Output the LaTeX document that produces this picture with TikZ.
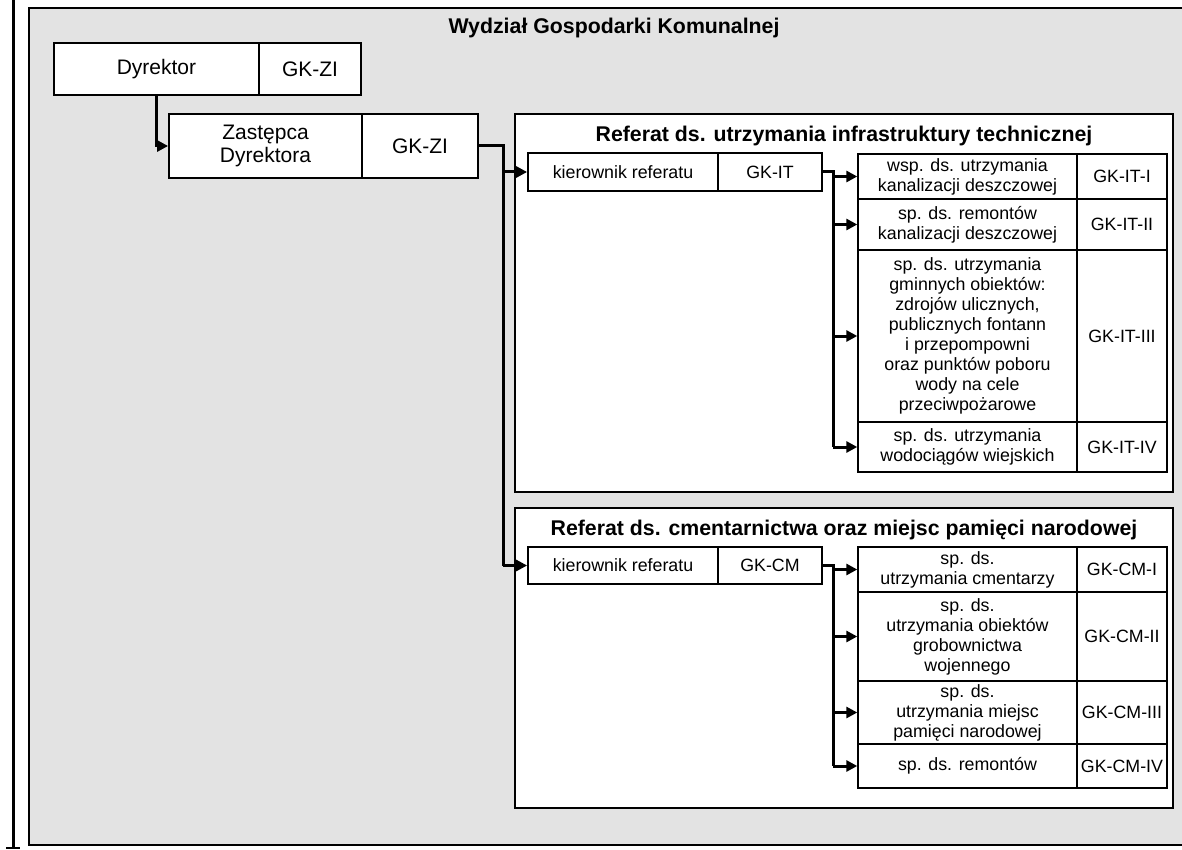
\documentclass[tikz,border=0pt]{standalone}
\usepackage{fontspec}
\setmainfont{Liberation Sans}
\usetikzlibrary{arrows.meta}
\newcommand\bigf{\fontsize{21}{23.5}\selectfont}
\newcommand\smf{\fontsize{17.8}{20}\selectfont}
\newcommand\titf{\fontsize{21.3}{24}\selectfont\bfseries}
\tikzset{
  box/.style={draw, line width=1.8pt, fill=white, inner sep=0pt, align=center, font=\smf},
  bigbox/.style={box, font=\bigf},
  rowbox/.style={draw, line width=1.4pt, fill=white, inner sep=0pt, align=center, font=\smf},
  frame/.style={draw, line width=2.2pt, fill=white, inner sep=0pt},
  conn/.style={line width=3pt},
  arr/.style={conn, -{Triangle[length=11pt,width=11pt]}},
  title/.style={anchor=base, font=\titf, inner sep=0pt}
}
\begin{document}
\begin{tikzpicture}[x=1pt,y=-1pt]
\useasboundingbox (0,0) rectangle (1182,850);
% outer gray area
\fill[black!11] (29,8) rectangle (1182,845);
\draw[line width=2pt] (1182,8) -- (29,8) -- (29,845) -- (1182,845);
% left bar
\draw[line width=3pt] (13,0) -- (13,848);
\draw[line width=2.2pt] (6,848) -- (20,848);
% main title
\node[title] (maintitle) at (614,34) {Wydział Gospodarki Komunalnej};
% director
\node[bigbox, minimum width=205pt, minimum height=52pt] (dyrA) at (156.5,69) {Dyrektor};
\node[bigbox, minimum width=102pt, minimum height=52pt] (dyrB) at (310,69) {GK-ZI};
% deputy
\node[bigbox, minimum width=193pt, minimum height=64pt] (zasA) at (265.5,146) {Zastępca\\Dyrektora};
\node[bigbox, minimum width=116pt, minimum height=64pt] (zasB) at (420,146) {GK-ZI};
% referat 1
\node[frame, minimum width=658pt, minimum height=378pt] (ref1) at (844,303) {};
\node[title] (ref1t) at (844,142) {Referat ds. utrzymania infrastruktury technicznej};
\node[box, minimum width=190pt, minimum height=38pt] (kier1A) at (623,172) {kierownik referatu};
\node[box, minimum width=104pt, minimum height=38pt] (kier1B) at (770,172) {GK-IT};
\node[rowbox, minimum width=219pt, minimum height=45pt] (it1) at (967.5,176.5) {wsp. ds. utrzymania\\kanalizacji deszczowej};
\node[rowbox, minimum width=90pt, minimum height=45pt] (it1c) at (1122,176.5) {GK-IT-I};
\node[rowbox, minimum width=219pt, minimum height=51pt] (it2) at (967.5,224.5) {sp. ds. remontów\\kanalizacji deszczowej};
\node[rowbox, minimum width=90pt, minimum height=51pt] (it2c) at (1122,224.5) {GK-IT-II};
\node[rowbox, minimum width=219pt, minimum height=172pt] (it3) at (967.5,336) {sp. ds. utrzymania\\gminnych obiektów:\\zdrojów ulicznych,\\publicznych fontann\\i przepompowni\\oraz punktów poboru\\wody na cele\\przeciwpożarowe};
\node[rowbox, minimum width=90pt, minimum height=172pt] (it3c) at (1122,336) {GK-IT-III};
\node[rowbox, minimum width=219pt, minimum height=50pt] (it4) at (967.5,447) {sp. ds. utrzymania\\wodociągów wiejskich};
\node[rowbox, minimum width=90pt, minimum height=50pt] (it4c) at (1122,447) {GK-IT-IV};
% referat 2
\node[frame, minimum width=658pt, minimum height=300pt] (ref2) at (844,658) {};
\node[title] (ref2t) at (844,535) {Referat ds. cmentarnictwa oraz miejsc pamięci narodowej};
\node[box, minimum width=190pt, minimum height=37pt] (kier2A) at (623,565.5) {kierownik referatu};
\node[box, minimum width=104pt, minimum height=37pt] (kier2B) at (770,565.5) {GK-CM};
\node[rowbox, minimum width=219pt, minimum height=45pt] (cm1) at (967.5,569.5) {sp. ds.\\utrzymania cmentarzy};
\node[rowbox, minimum width=90pt, minimum height=45pt] (cm1c) at (1122,569.5) {GK-CM-I};
\node[rowbox, minimum width=219pt, minimum height=89pt] (cm2) at (967.5,636.5) {sp. ds.\\utrzymania obiektów\\grobownictwa\\wojennego};
\node[rowbox, minimum width=90pt, minimum height=89pt] (cm2c) at (1122,636.5) {GK-CM-II};
\node[rowbox, minimum width=219pt, minimum height=63pt] (cm3) at (967.5,712.5) {sp. ds.\\utrzymania miejsc\\pamięci narodowej};
\node[rowbox, minimum width=90pt, minimum height=63pt] (cm3c) at (1122,712.5) {GK-CM-III};
\node[rowbox, minimum width=219pt, minimum height=44pt] (cm4) at (967.5,766) {sp. ds. remontów};
\node[rowbox, minimum width=90pt, minimum height=44pt] (cm4c) at (1122,766) {GK-CM-IV};
% connectors
\coordinate (bx) at (503,146);
\coordinate (cx1) at (833,172);
\coordinate (cx2) at (833,565.5);
\draw[arr] (dyrA.south) |- (zasA.west);
\draw[conn] (zasB.east) -- (bx) -- (bx |- kier2A.west);
\draw[arr] (bx |- kier1A.west) -- (kier1A.west);
\draw[arr] (bx |- kier2A.west) -- (kier2A.west);
\draw[conn] (kier1B.east) -- (cx1) -- (cx1 |- it4.west);
\draw[arr] (cx1 |- it1.west) -- (it1.west);
\draw[arr] (cx1 |- it2.west) -- (it2.west);
\draw[arr] (cx1 |- it3.west) -- (it3.west);
\draw[arr] (cx1 |- it4.west) -- (it4.west);
\draw[conn] (kier2B.east) -- (cx2) -- (cx2 |- cm4.west);
\draw[arr] (cx2 |- cm1.west) -- (cm1.west);
\draw[arr] (cx2 |- cm2.west) -- (cm2.west);
\draw[arr] (cx2 |- cm3.west) -- (cm3.west);
\draw[arr] (cx2 |- cm4.west) -- (cm4.west);
\end{tikzpicture}
\end{document}
